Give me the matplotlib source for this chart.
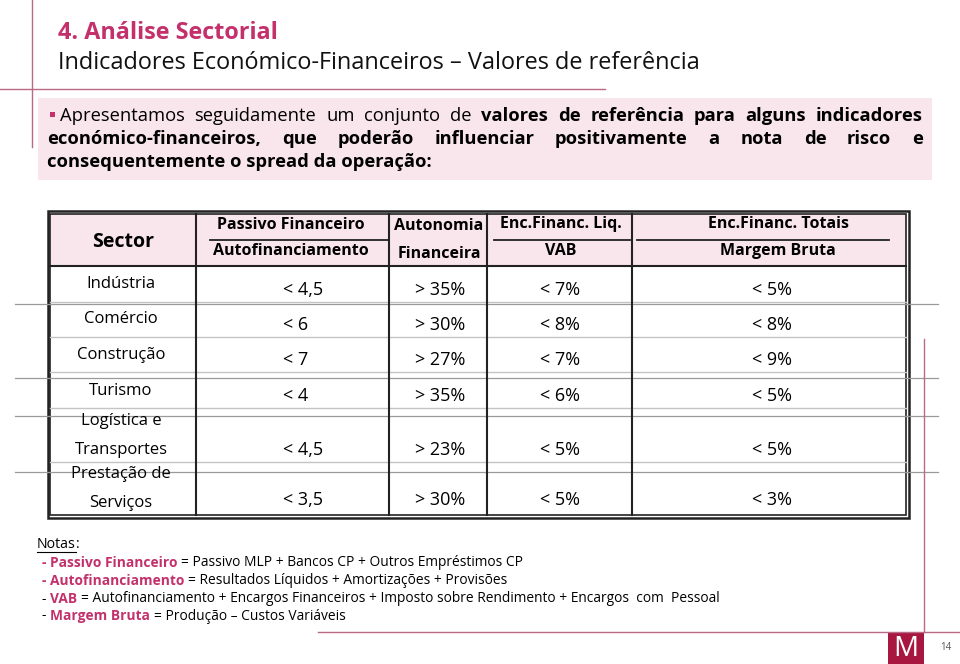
import matplotlib.pyplot as plt
from matplotlib.patches import Rectangle

plt.rcParams['font.family'] = ['Open Sans', 'DejaVu Sans']

PINK = '#c3306b'
LINE = '#b86a87'
FILL = '#f9e6ec'

title = '4. Análise Sectorial'
subtitle = 'Indicadores Económico-Financeiros – Valores de referência'
intro_plain = 'Apresentamos seguidamente um conjunto de'
intro_bold = ['valores de referência para alguns indicadores',
              'económico-financeiros, que poderão influenciar positivamente a nota de risco e',
              'consequentemente o spread da operação:']

sectors = ['Indústria', 'Comércio', 'Construção', 'Turismo',
           'Logística e\nTransportes', 'Prestação de\nServiços']
passivo_autofin = ['< 4,5', '< 6', '< 7', '< 4', '< 4,5', '< 3,5']
autonomia = ['> 35%', '> 30%', '> 27%', '> 35%', '> 23%', '> 30%']
enc_liq_vab = ['< 7%', '< 8%', '< 7%', '< 6%', '< 5%', '< 5%']
enc_tot_margem = ['< 5%', '< 8%', '< 9%', '< 5%', '< 5%', '< 3%']

headers = [('Passivo Financeiro', 'Autofinanciamento'),
           ('Autonomia', 'Financeira'),
           ('Enc.Financ. Liq.', 'VAB'),
           ('Enc.Financ. Totais', 'Margem Bruta')]

note_terms = ['Passivo Financeiro', 'Autofinanciamento', 'VAB', 'Margem Bruta']
note_defs = ['= Passivo MLP + Bancos CP + Outros Empréstimos CP',
             '= Resultados Líquidos + Amortizações + Provisões',
             '= Autofinanciamento + Encargos Financeiros + Imposto sobre Rendimento + Encargos  com  Pessoal',
             '= Produção – Custos Variáveis']

fig = plt.figure(figsize=(9.6, 6.64), dpi=100)
ax = fig.add_axes([0, 0, 1, 1])
ax.set_xlim(0, 960)
ax.set_ylim(664, 0)
ax.axis('off')
r = fig.canvas.get_renderer()


def w(t):
    return t.get_window_extent(r).width


def space_w(size, bold):
    fw = 'bold' if bold else 'normal'
    a = ax.text(0, 0, 'a a', fontsize=size, fontweight=fw)
    b = ax.text(0, 0, 'aa', fontsize=size, fontweight=fw)
    s = w(a) - w(b)
    a.remove(); b.remove()
    return s


def run(x, y, parts, size):
    # parts: (text, bold, color) placed one after another with a space
    for s, bold, color in parts:
        t = ax.text(x, y, s, fontsize=size, fontweight='bold' if bold else 'normal',
                    color=color, va='center')
        x += w(t) + space_w(size, bold)


def justify(x0, x1, y, words, size):
    arts = [ax.text(0, y, s, fontsize=size, fontweight='bold' if b else 'normal',
                    color='black', va='center') for s, b in words]
    ws = [w(a) for a in arts]
    gap = (x1 - x0 - sum(ws)) / (len(arts) - 1)
    x = x0
    for a, ww in zip(arts, ws):
        a.set_x(x)
        x += ww + gap


# title frame
ax.plot([32, 32], [0, 147], color=LINE, lw=1)
ax.plot([0, 605], [89, 89], color=LINE, lw=1)
ax.text(58, 33, title, fontsize=16.8, fontweight='bold', color=PINK, va='center')
ax.text(58, 63, subtitle, fontsize=16.9, color='#111111', va='center')

# intro box
ax.add_patch(Rectangle((38, 98), 894, 82, facecolor=FILL, edgecolor='none'))
ax.add_patch(Rectangle((50, 112), 5, 5, facecolor=PINK, edgecolor='none'))
words1 = [(s, False) for s in intro_plain.split()] + [(s, True) for s in intro_bold[0].split()]
justify(60, 923, 116, words1, 13.2)
justify(47, 923, 139, [(s, True) for s in intro_bold[1].split()], 13.2)
ax.text(47, 162, intro_bold[2], fontsize=13.2, fontweight='bold', va='center')

# table
cols = [50, 196, 389, 487, 632, 906]
top, head_bot, bot = 214, 266, 515
ax.add_patch(Rectangle((cols[0], top), cols[-1] - cols[0], head_bot - top,
                       facecolor=FILL, edgecolor='none'))
for y in [302, 337, 372, 408, 462]:
    ax.plot([cols[0], cols[-1]], [y, y], color='#c4c4c4', lw=1)
for y in [303.5, 378, 416, 472]:
    ax.plot([15, 938], [y, y], color='#9a9a9a', lw=0.9)
ax.add_patch(Rectangle((47.5, 210.5), 861.5, 307.5, fill=False, edgecolor='#222222', lw=1.8))
ax.add_patch(Rectangle((cols[0], top), cols[-1] - cols[0], bot - top, fill=False,
                       edgecolor='#222222', lw=1.2))
ax.plot([cols[0], cols[-1]], [head_bot, head_bot], color='#222222', lw=1.5)
for x in cols[1:-1]:
    ax.plot([x, x], [top, bot], color='#222222', lw=1.5)

ax.text(123, 242, 'Sector', fontsize=14, fontweight='bold', va='center', ha='center')
head_x = [291, 439, 561, 778]
frac_lines = [(210, 389), None, (494, 630), (637, 889)]
head_y = [(225, 251), (226, 254), (224, 251), (224, 251)]
for (a, b), x, fl, (ya, yb) in zip(headers, head_x, frac_lines, head_y):
    ax.text(x, ya, a, fontsize=11.5, fontweight='bold', va='center', ha='center')
    ax.text(x, yb, b, fontsize=11.5, fontweight='bold', va='center', ha='center')
    if fl:
        ax.plot(fl, [240, 240], color='#222222', lw=1.3)

row_y = [290, 325, 360, 396, 450, 500]
label_y = [284, 319, 355, 391, 435.5, 488.5]
for lab, ly in zip(sectors, label_y):
    ax.text(121, ly, lab, fontsize=12, va='center', ha='center', linespacing=2.05)
for col, x in zip([passivo_autofin, autonomia, enc_liq_vab, enc_tot_margem],
                  [283, 415, 540, 752]):
    for s, y in zip(col, row_y):
        ax.text(x, y, s, fontsize=13, va='center', ha='left')

# notes
t = ax.text(37, 545, 'Notas', fontsize=10.2, va='center')
ax.plot([37, 37 + w(t)], [552, 552], color='black', lw=0.8)
ax.text(37 + w(t), 545, ':', fontsize=10.2, va='center')
note_y = [563, 581, 599, 616]
for i, (term, d, y) in enumerate(zip(note_terms, note_defs, note_y)):
    if i < 2:
        parts = [('- ' + term, True, PINK), (d, False, 'black')]
    else:
        parts = [('-', False, 'black'), (term, True, PINK), (d, False, 'black')]
    run(42, y, parts, 9.95)

# footer
ax.plot([318, 960], [632, 632], color=LINE, lw=1)
ax.plot([924, 924], [339, 632], color=LINE, lw=1)
ax.add_patch(Rectangle((888, 633), 36, 31, facecolor='#a8173f', edgecolor='none'))
ax.text(906, 649, 'M', fontsize=20, color='white', ha='center', va='center')
ax.text(940, 648, '14', fontsize=7, color='#555555', va='center')

fig.savefig('out.png', dpi=100)
